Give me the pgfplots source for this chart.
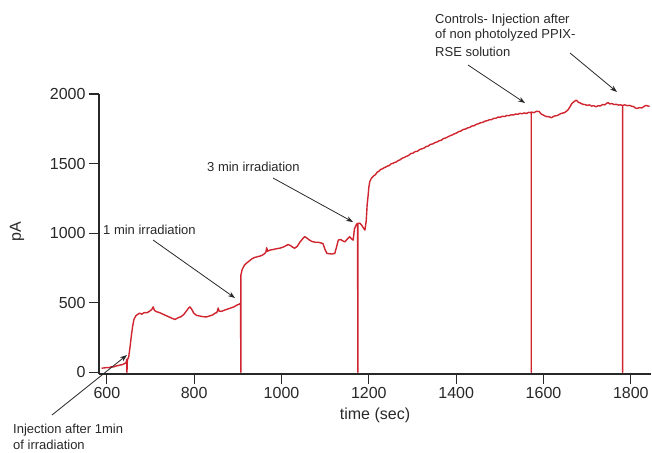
\documentclass[border=0pt]{standalone}
\usepackage{fontspec}
\setmainfont{Liberation Sans}
\usepackage{pgfplots}
\pgfplotsset{compat=1.18}
\usetikzlibrary{arrows.meta}
\definecolor{trace}{RGB}{208,36,46}
\definecolor{ink}{RGB}{40,40,40}

\begin{document}
\begin{tikzpicture}[x=1pt,y=1pt]
\useasboundingbox (-99,-78) rectangle (553,374);
\begin{axis}[
  at={(0,0)}, anchor=south west,
  scale only axis, width=551.5pt, height=280pt,
  xmin=582, xmax=1845, ymin=-12, ymax=2000,
  axis lines*=left,
  axis line style={ink, line width=1.2pt},
  tick style={ink, line width=1.2pt},
  tick align=outside, major tick length=10pt,
  xtick={600,800,...,1800}, ytick={0,500,...,2000},
  ticklabel style={font=\fontsize{16}{18}\selectfont, text=ink},
  /pgf/number format/assume math mode=true,
  /pgf/number format/set thousands separator={},
  scaled ticks=false,
  clip=false,
]
\addplot[trace, line width=1.4pt, line join=round] coordinates {
(588,30) (595,32) (600,35) (605,33) (610,40) (615,38) (620,45) (625,48) (630,52) (635,55) (640,62) (644,70) (646,95)
(646,0) (647,90) (650,110) (653,180) (656,260) (659,330) (662,380) (666,405) (670,415) (675,425) (680,418) (686,430)
(692,428) (698,440) (703,452) (706,470) (709,445) (714,435) (720,430) (727,420) (734,410) (741,400) (748,390) (756,380)
(763,392) (770,400) (776,415) (782,440) (787,462) (790,470) (794,455) (799,425) (805,410) (812,405) (820,400) (828,398)
(835,405) (842,412) (848,425) (852,430) (855,462) (857,440) (862,438) (868,445) (874,452) (880,458) (886,465) (891,470)
(897,482) (903,490) (906,495) (907,0) (907,700) (910,740) (915,770) (920,785) (926,800) (932,815) (938,825) (944,830)
(950,835) (955,840) (960,850) (964,862) (966,895) (968,870) (973,878) (980,882) (988,888) (996,892) (1004,900) (1010,910)
(1015,918) (1020,912) (1025,900) (1030,892) (1036,905) (1042,935) (1048,958) (1053,975) (1058,965) (1064,950) (1070,940)
(1077,935) (1084,935) (1090,930) (1095,925) (1100,880) (1104,855) (1110,852) (1116,850) (1122,855) (1126,900) (1130,950)
(1135,955) (1140,945) (1145,938) (1150,955) (1156,975) (1160,960) (1164,950) (1167,1030) (1171,1060) (1174,1070)
(1175,0) (1175,1070) (1179,1072) (1183,1060) (1187,1040) (1191,1022) (1194,1090) (1196,1200) (1198,1262) (1200,1330)
(1202,1370) (1206,1395) (1211,1412) (1215,1420) (1219,1438) (1223,1445) (1227,1458) (1231,1462) (1235,1470) (1239,1476)
(1243,1482) (1247,1486) (1251,1498) (1255,1502) (1259,1508) (1263,1512) (1267,1522) (1271,1526) (1276,1538) (1281,1544)
(1286,1552) (1291,1558) (1296,1572) (1301,1575) (1306,1586) (1311,1588) (1316,1600) (1321,1606) (1326,1611) (1331,1622)
(1336,1626) (1341,1638) (1346,1641) (1351,1650) (1356,1655) (1361,1664) (1366,1668) (1371,1680) (1376,1684) (1381,1692)
(1386,1700) (1391,1706) (1396,1714) (1401,1720) (1406,1730) (1411,1734) (1416,1745) (1421,1748) (1426,1756) (1431,1760)
(1436,1770) (1441,1772) (1446,1782) (1451,1786) (1456,1794) (1461,1796) (1466,1805) (1471,1808) (1476,1815) (1481,1816)
(1486,1825) (1491,1826) (1496,1834) (1501,1833) (1506,1840) (1511,1838) (1516,1846) (1521,1844) (1526,1851) (1531,1849)
(1536,1856) (1541,1854) (1546,1861) (1551,1858) (1556,1864) (1561,1860) (1566,1868) (1570,1866)
(1572,1870) (1572,0) (1572,1870) (1578,1866) (1584,1876) (1590,1874) (1595,1855) (1600,1848) (1606,1838) (1612,1837)
(1618,1830) (1625,1842) (1632,1846) (1640,1860) (1648,1866) (1655,1882) (1660,1905) (1665,1932) (1670,1946)
(1675,1956) (1680,1940) (1685,1934) (1690,1926) (1695,1924) (1700,1918) (1705,1922) (1710,1913) (1715,1916) (1720,1908)
(1725,1916) (1730,1914) (1735,1924) (1740,1922) (1745,1934) (1748,1938) (1752,1928) (1756,1932) (1762,1924) (1767,1926)
(1772,1920) (1776,1922) (1781,1918) (1781,0) (1781,1918) (1786,1922) (1792,1916) (1797,1918) (1802,1912) (1806,1910)
(1810,1900) (1814,1896) (1820,1902) (1825,1900) (1830,1910) (1834,1918) (1839,1914) (1843,1912)
};
\end{axis}
% axis titles
\node[font=\fontsize{16}{18}\selectfont, text=ink] at (276,-41) {time (sec)};
\node[font=\fontsize{16}{18}\selectfont, text=ink, rotate=90] at (-82,142) {pA};
% annotations
\begin{scope}[font=\fontsize{13}{15}\selectfont, text=ink, every node/.style={inner sep=0pt, anchor=west}]
\node at (4,144) {1 min irradiation};
\node at (108,207) {3 min irradiation};
\node at (336,354) {Controls- Injection after};
\node at (336,339) {of non photolyzed PPIX-};
\node at (336,322) {RSE solution};
\node at (-86,-56) {Injection after 1min};
\node at (-86,-71) {of irradiation};
\end{scope}
\begin{scope}[ink, line width=0.8pt, -{Stealth[length=7pt,width=5pt]}]
\draw (54,134) -- (136,76);
\draw (174,196) -- (254,152);
\draw (369,309) -- (426,271);
\draw (471,321) -- (518,282);
\draw (-47,-41) -- (28,19);
\end{scope}
\end{tikzpicture}
\end{document}
